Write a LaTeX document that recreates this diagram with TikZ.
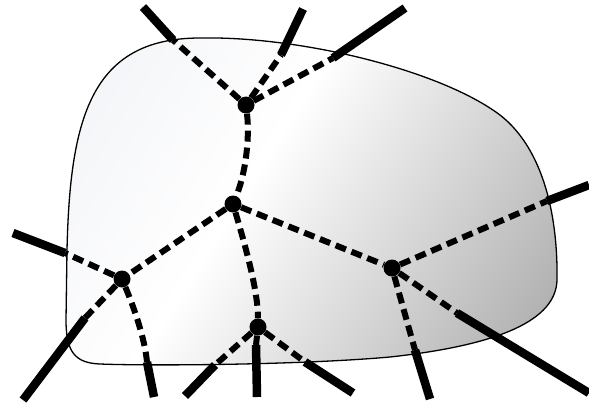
\documentclass[tikz,border=0pt]{standalone}
\usepackage{xcolor}
\usetikzlibrary{calc}
\definecolor{bloblight}{RGB}{236,238,243}
\definecolor{blobdark}{RGB}{176,176,176}
\begin{document}
\begin{tikzpicture}[
  x=1pt,y=-1pt,
  vertex/.style={circle,fill=black,inner sep=0pt,minimum size=17pt},
  inner edge/.style={line width=6pt,dash pattern=on 11pt off 6pt},
  outer edge/.style={line width=8.5pt},
  outline/.style={line width=1.3pt}
]
  \useasboundingbox (0,0) rectangle (589,405);
  % the region
  \path[save path=\blob] (66,320) -- (67,250)
    .. controls (70,120) and (90,38) .. (200,38)
    .. controls (300,36) and (440,70) .. (500,115)
    .. controls (545,150) and (558,220) .. (557,280)
    .. controls (556,320) and (500,345) .. (390,357)
    .. controls (300,365) and (150,366) .. (100,364)
    .. controls (75,363) and (66,352) .. (66,320) -- cycle;
  \begin{scope}
    \clip[use path=\blob];
    \shade[transform canvas={rotate=-32},left color=bloblight,
      right color=blobdark,middle color=white] (-15,-450) rectangle (633,450);
  \end{scope}
  \draw[outline,use path=\blob];
  % vertices
  \node[vertex] (vtop) at (246,105) {};
  \node[vertex] (vmid) at (233,204) {};
  \node[vertex] (vleft) at (122,279) {};
  \node[vertex] (vlow) at (258,327) {};
  \node[vertex] (vright) at (392,268) {};
  % edges inside
  \draw[inner edge] (vtop) .. controls (250,140) and (245,175) .. (vmid);
  \draw[inner edge] (vmid) -- (vleft);
  \draw[inner edge] (vmid) .. controls (245,245) and (258,290) .. (vlow);
  \draw[inner edge] (vmid) -- (vright);
  % half edges leaving the region
  \coordinate (top-w-cut) at (173,40);   \coordinate (top-w) at (143,7);
  \coordinate (top-n-cut) at (281,55);   \coordinate (top-n) at (303,9);
  \coordinate (top-e-cut) at (333,58);   \coordinate (top-e) at (405,8);
  \coordinate (left-w-cut) at (65,253);  \coordinate (left-w) at (13,233);
  \coordinate (left-sw-cut) at (85,318); \coordinate (left-sw) at (23,400);
  \coordinate (left-s-cut) at (147,362); \coordinate (left-s) at (154,397);
  \coordinate (low-sw-cut) at (215,365); \coordinate (low-sw) at (185,396);
  \coordinate (low-s-cut) at (256,345);  \coordinate (low-s) at (257,397);
  \coordinate (low-se-cut) at (305,362); \coordinate (low-se) at (353,393);
  \coordinate (right-e-cut) at (547,201); \coordinate (right-e) at (589,185);
  \coordinate (right-s-cut) at (415,350); \coordinate (right-s) at (430,399);
  \coordinate (right-se-cut) at (457,313); \coordinate (right-se) at (589,393);
  \foreach \v/\e in {vtop/top-w,vtop/top-n,vtop/top-e,vleft/left-w,
      vleft/left-sw,vlow/low-sw,vlow/low-s,vlow/low-se,
      vright/right-e,vright/right-s,vright/right-se} {
    \draw[inner edge] (\v) -- (\e-cut);
    \draw[outer edge] (\e-cut) -- (\e);
  }
  \draw[inner edge] (vleft) .. controls (135,310) and (145,340) .. (left-s-cut);
  \draw[outer edge] (left-s-cut) -- (left-s);
\end{tikzpicture}
\end{document}
